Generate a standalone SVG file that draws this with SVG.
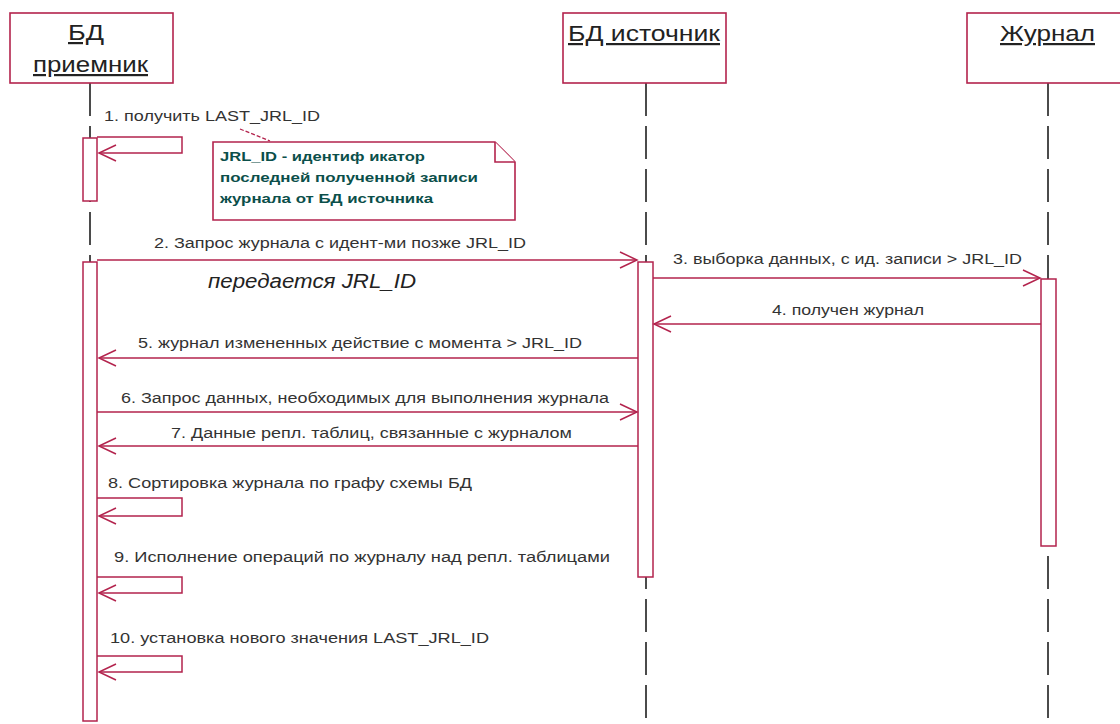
<svg xmlns="http://www.w3.org/2000/svg" width="1120" height="724" viewBox="0 0 1120 724">
<style>
.box{fill:#fff;stroke:#b3234d;stroke-width:1.6}
.life{stroke:#111;stroke-width:1.5;stroke-dasharray:33 10;fill:none}
.bar{fill:#fff;stroke:#b3234d;stroke-width:1.5}
.msg{fill:none;stroke:#b3234d;stroke-width:1.5}
.hdr{font-family:"Liberation Sans",Arial,sans-serif;font-size:22px;fill:#222;text-decoration:underline}
.lbl{font-family:"Liberation Sans",Arial,sans-serif;font-size:14px;fill:#333}
.note{font-family:"Liberation Sans",Arial,sans-serif;font-size:13px;font-weight:bold;fill:#0b4f4a}
.big{font-family:"Liberation Sans",Arial,sans-serif;font-size:20px;font-style:italic;fill:#222}
</style>
<defs>
<marker id="arr" viewBox="0 0 20 18" refX="18" refY="9" markerWidth="20" markerHeight="18" markerUnits="userSpaceOnUse" orient="auto">
<path d="M1,1 L18,9 L1,17" fill="none" stroke="#b3234d" stroke-width="1.5"/>
</marker>
</defs>
<rect width="1120" height="724" fill="#fff"/>

<g id="lifelines">
<line class="life" x1="90" y1="83" x2="90" y2="720"/>
<line class="life" x1="646" y1="83" x2="646" y2="720"/>
<line class="life" x1="1048" y1="83" x2="1048" y2="720"/>
</g>

<g id="node-receiver">
<rect class="box" x="10" y="13" width="163" height="70"/>
<text class="hdr" x="68" y="40" textLength="36" lengthAdjust="spacingAndGlyphs">БД</text>
<text class="hdr" x="33" y="72" textLength="115" lengthAdjust="spacingAndGlyphs">приемник</text>
<rect class="bar" x="83" y="138" width="14" height="63"/>
<rect class="bar" x="83" y="262" width="14" height="459"/>
</g>

<g id="node-source">
<rect class="box" x="563" y="13" width="163" height="70"/>
<text class="hdr" x="568" y="41" textLength="152" lengthAdjust="spacingAndGlyphs">БД источник</text>
<rect class="bar" x="638" y="262" width="15" height="315"/>
</g>

<g id="node-journal">
<rect class="box" x="967" y="13" width="163" height="70"/>
<text class="hdr" x="1000" y="41" textLength="95" lengthAdjust="spacingAndGlyphs">Журнал</text>
<rect class="bar" x="1041" y="279" width="15" height="267"/>
</g>

<g id="note">
<path class="box" d="M213,142 H495 L515,162 V220 H213 Z"/>
<path class="box" d="M495,142 V162 H515" fill="none"/>
<text class="note" x="220" y="161" textLength="205" lengthAdjust="spacingAndGlyphs">JRL_ID - идентиф икатор</text>
<text class="note" x="220" y="182" textLength="258" lengthAdjust="spacingAndGlyphs">последней полученной записи</text>
<text class="note" x="220" y="203" textLength="213" lengthAdjust="spacingAndGlyphs">журнала от БД источника</text>
</g>

<g id="connectors">
<line x1="240" y1="129" x2="270" y2="141" stroke="#b3234d" stroke-width="1.3" stroke-dasharray="4 2"/>
<polyline class="msg" points="97,137 182,137 182,153 99,153" marker-end="url(#arr)"/>
<line class="msg" x1="97" y1="260" x2="637" y2="260" marker-end="url(#arr)"/>
<line class="msg" x1="653" y1="278" x2="1040" y2="278" marker-end="url(#arr)"/>
<line class="msg" x1="1041" y1="324" x2="654" y2="324" marker-end="url(#arr)"/>
<line class="msg" x1="638" y1="358" x2="99" y2="358" marker-end="url(#arr)"/>
<line class="msg" x1="97" y1="412" x2="637" y2="412" marker-end="url(#arr)"/>
<line class="msg" x1="638" y1="446" x2="99" y2="446" marker-end="url(#arr)"/>
<polyline class="msg" points="97,498 182,498 182,516 99,516" marker-end="url(#arr)"/>
<polyline class="msg" points="97,577 182,577 182,593 99,593" marker-end="url(#arr)"/>
<polyline class="msg" points="97,656 182,656 182,672 99,672" marker-end="url(#arr)"/>
</g>

<g id="labels">
<text class="lbl" x="104" y="121" textLength="216" lengthAdjust="spacingAndGlyphs">1. получить LAST_JRL_ID</text>
<text class="lbl" x="154" y="248" textLength="372" lengthAdjust="spacingAndGlyphs">2. Запрос журнала с идент-ми позже JRL_ID</text>
<text class="big" x="208" y="288" textLength="208" lengthAdjust="spacingAndGlyphs">передается JRL_ID</text>
<text class="lbl" x="673" y="264" textLength="349" lengthAdjust="spacingAndGlyphs">3. выборка данных, с ид. записи &gt; JRL_ID</text>
<text class="lbl" x="772" y="315" textLength="152" lengthAdjust="spacingAndGlyphs">4. получен журнал</text>
<text class="lbl" x="138" y="348" textLength="444" lengthAdjust="spacingAndGlyphs">5. журнал измененных действие с момента &gt; JRL_ID</text>
<text class="lbl" x="121" y="403" textLength="488" lengthAdjust="spacingAndGlyphs">6. Запрос данных, необходимых для выполнения журнала</text>
<text class="lbl" x="171" y="438" textLength="401" lengthAdjust="spacingAndGlyphs">7. Данные репл. таблиц, связанные с журналом</text>
<text class="lbl" x="108" y="488" textLength="364" lengthAdjust="spacingAndGlyphs">8. Сортировка журнала по графу схемы БД</text>
<text class="lbl" x="114" y="562" textLength="496" lengthAdjust="spacingAndGlyphs">9. Исполнение операций по журналу над репл. таблицами</text>
<text class="lbl" x="110" y="643" textLength="379" lengthAdjust="spacingAndGlyphs">10. установка нового значения LAST_JRL_ID</text>
</g>
</svg>
